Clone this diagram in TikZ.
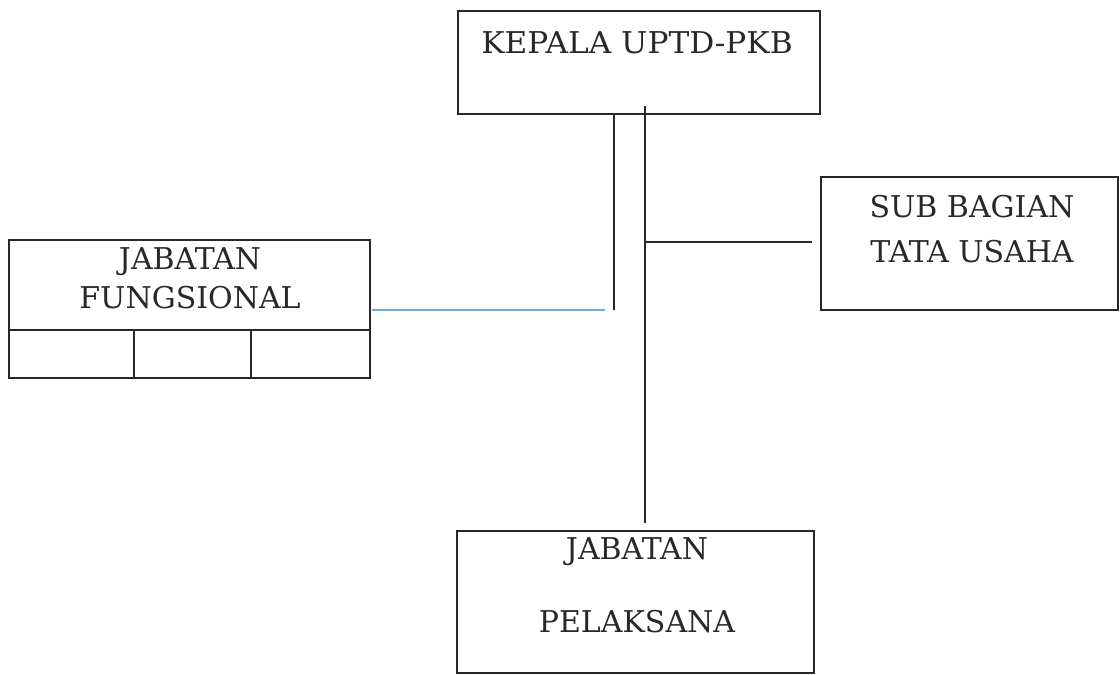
\documentclass[tikz,border=0pt]{standalone}
\usepackage{fontspec}
\setmainfont{DejaVu Serif}
\usetikzlibrary{calc}
\definecolor{lineblue}{RGB}{110,170,220}
\definecolor{ink}{RGB}{40,40,40}
\tikzset{
  orgbox/.style={draw=ink, line width=1.3pt, rectangle, inner sep=0pt},
  lbl/.style={text=ink, font=\fontsize{30}{34}\selectfont, inner sep=0pt},
  conn/.style={draw=ink, line width=1.3pt},
  blueconn/.style={draw=lineblue, line width=1.1pt}
}
\begin{document}
\begin{tikzpicture}[x=1pt,y=-1pt]
\useasboundingbox (0,0) rectangle (1120,675);
% boxes
\node[orgbox, minimum width=362pt, minimum height=103pt] (kepala) at (639,62.5) {};
\node[lbl, xscale=1.04] (kepalaT) at (637,43) {KEPALA UPTD-PKB};
\node[orgbox, minimum width=297pt, minimum height=133pt] (sub) at (969.5,243.5) {};
\node[lbl] (sub1) at (972,207) {SUB BAGIAN};
\node[lbl] (sub2) at (972,252) {TATA USAHA};
\node[orgbox, minimum width=361pt, minimum height=138pt] (fung) at (189.5,309) {};
\node[lbl] (fung1) at (190,262) {JABATAN};
\node[lbl] (fung2) at (190,298) {FUNGSIONAL};
\coordinate (fdl) at (9,330);
\coordinate (fdr) at (370,330);
\draw[conn] (fdl) -- (fdr);
\draw[conn] (134,330) coordinate (c1) -- (c1 |- fung.south);
\draw[conn] (251,330) coordinate (c2) -- (c2 |- fung.south);
\node[orgbox, minimum width=357pt, minimum height=142pt] (pel) at (635.5,602) {};
\node[lbl] (pel1) at (637,552) {JABATAN};
\node[lbl] (pel2) at (637,622) {PELAKSANA};
% connectors
\coordinate (v1top) at (kepala.south -| 614,0);
\coordinate (v1bot) at (614,310);
\draw[conn] (v1top) -- (v1bot);
\coordinate (v2top) at (645,106);
\coordinate (v2bot) at (645,523);
\draw[conn] (v2top) -- (v2bot);
\coordinate (hsub) at (645,242);
\coordinate (hsubend) at (812,242);
\draw[conn] (hsub) -- (hsubend);
\coordinate (bluestart) at (372,310);
\coordinate (blueend) at (605,310);
\draw[blueconn] (bluestart) -- (blueend);
\end{tikzpicture}
\end{document}
